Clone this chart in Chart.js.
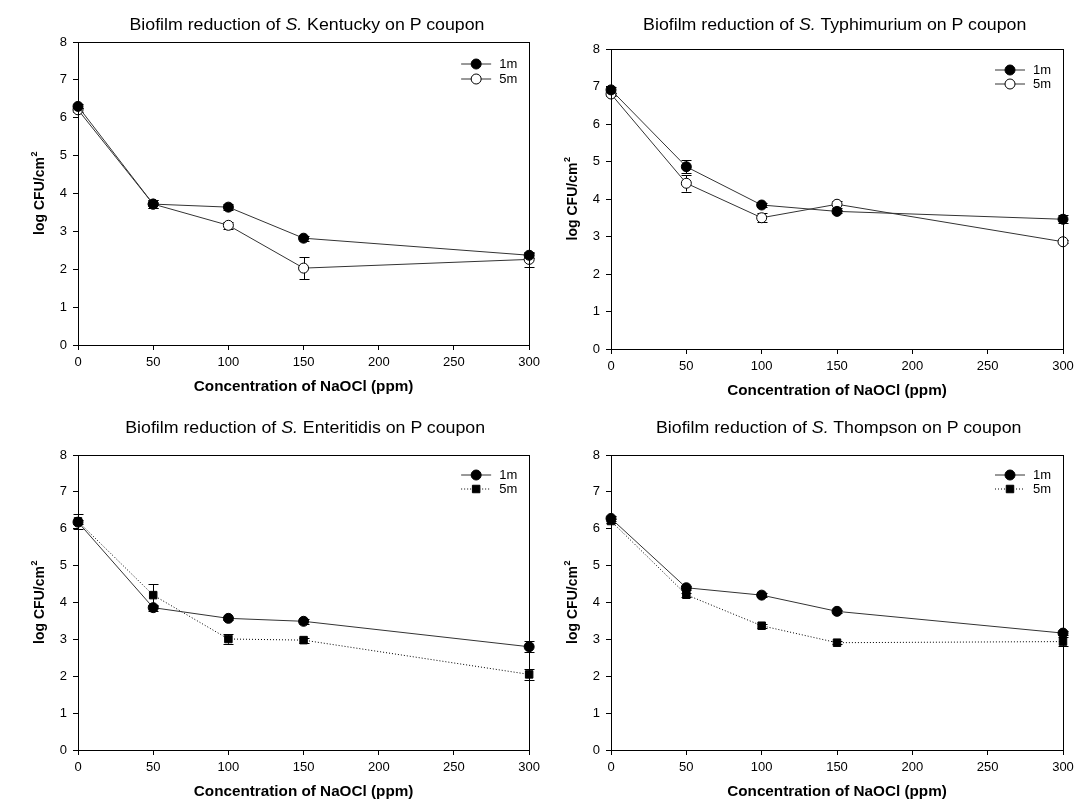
<!DOCTYPE html>
<html><head><meta charset="utf-8">
<script src="https://cdn.jsdelivr.net/npm/chart.js@4"></script>
<style>
body{margin:0;background:#fff;width:1090px;height:808px;overflow:hidden;position:relative;font-family:"Liberation Sans",Arial,sans-serif;}
.panel{position:absolute;width:545px;height:404px;}
.panel canvas{position:absolute;left:0;top:0;}
.title{position:absolute;white-space:nowrap;font-size:16px;color:#000;line-height:20px;transform-origin:center center;}
</style></head><body>
<div class="panel" style="left:0;top:0"><canvas id="c1" width="545" height="404"></canvas></div>
<div class="panel" style="left:545px;top:0"><canvas id="c2" width="545" height="404"></canvas></div>
<div class="panel" style="left:0;top:404px"><canvas id="c3" width="545" height="404"></canvas></div>
<div class="panel" style="left:545px;top:404px"><canvas id="c4" width="545" height="404"></canvas></div>
<div class="title" id="t1">Biofilm reduction of <i>S.</i> Kentucky on P coupon</div>
<div class="title" id="t2">Biofilm reduction of <i>S.</i> Typhimurium on P coupon</div>
<div class="title" id="t3">Biofilm reduction of <i>S.</i> Enteritidis on P coupon</div>
<div class="title" id="t4">Biofilm reduction of <i>S.</i> Thompson on P coupon</div>
<script>
// ---- data ----
const concentration = [0, 50, 100, 150, 300];
const xTickValues = [0, 50, 100, 150, 200, 250, 300];
const yTickValues = [0, 1, 2, 3, 4, 5, 6, 7, 8];
const seriesLabels = ['1m', '5m'];
const xAxisTitle = 'Concentration of NaOCl (ppm)';
const yAxisTitle = 'log CFU/cm';
const yAxisSup = '2';

const kentucky1m = [6.30, 3.72, 3.64, 2.82, 2.37];
const kentucky1mErr = [0.05, 0.10, 0.07, 0.07, 0.07];
const kentucky5m = [6.21, 3.72, 3.16, 2.03, 2.26];
const kentucky5mErr = [0.05, 0.10, 0.10, 0.29, 0.19];

const typhimurium1m = [6.91, 4.86, 3.84, 3.67, 3.46];
const typhimurium1mErr = [0.07, 0.18, 0.06, 0.05, 0.10];
const typhimurium5m = [6.80, 4.42, 3.50, 3.86, 2.86];
const typhimurium5mErr = [0.04, 0.22, 0.12, 0.09, 0.04];

const enteritidis1m = [6.18, 3.86, 3.57, 3.49, 2.80];
const enteritidis1mErr = [0.05, 0.08, 0.04, 0.06, 0.15];
const enteritidis5m = [6.20, 4.20, 3.01, 2.98, 2.05];
const enteritidis5mErr = [0.21, 0.29, 0.13, 0.07, 0.15];

const thompson1m = [6.28, 4.40, 4.20, 3.76, 3.17];
const thompson1mErr = [0.06, 0.05, 0.05, 0.05, 0.06];
const thompson5m = [6.21, 4.21, 3.37, 2.91, 2.94];
const thompson5mErr = [0.05, 0.05, 0.05, 0.04, 0.12];

// ---- layout ----
const FONT = '"Liberation Sans", Arial, sans-serif';
const panels = [
  {canvas:'c1', title:'t1', tx:307, ty:25, area:{L:78, R:531, T:42, B:345}, leg:[22,37],
   s1:kentucky1m, e1:kentucky1mErr, s2:kentucky5m, e2:kentucky5mErr, style2:'open'},
  {canvas:'c2', title:'t2', tx:834, ty:25, area:{L:66, R:518, T:49, B:349}, leg:[21,35],
   s1:typhimurium1m, e1:typhimurium1mErr, s2:typhimurium5m, e2:typhimurium5mErr, style2:'open'},
  {canvas:'c3', title:'t3', tx:305, ty:428, area:{L:78, R:531, T:51, B:346}, leg:[20,34],
   s1:enteritidis1m, e1:enteritidis1mErr, s2:enteritidis5m, e2:enteritidis5mErr, style2:'square'},
  {canvas:'c4', title:'t4', tx:838, ty:428, area:{L:66, R:518, T:51, B:346}, leg:[20,34],
   s1:thompson1m, e1:thompson1mErr, s2:thompson5m, e2:thompson5mErr, style2:'square'}
];
const YW = 40, XH = 30;

const errorBars = {
  id:'errorBars',
  beforeDatasetsDraw(chart){
    const ctx = chart.ctx, xs = chart.scales.x, ys = chart.scales.y;
    ctx.save();
    ctx.strokeStyle = '#000'; ctx.lineWidth = 1;
    chart.data.datasets.forEach(ds => {
      ds.data.forEach((p, i) => {
        const e = ds.errors[i];
        const x = Math.round(xs.getPixelForValue(p.x)) + 0.5;
        const y1 = ys.getPixelForValue(p.y + e), y2 = ys.getPixelForValue(p.y - e);
        ctx.beginPath();
        ctx.moveTo(x, y1); ctx.lineTo(x, y2);
        ctx.moveTo(x - 5, Math.round(y1) + 0.5); ctx.lineTo(x + 5, Math.round(y1) + 0.5);
        ctx.moveTo(x - 5, Math.round(y2) + 0.5); ctx.lineTo(x + 5, Math.round(y2) + 0.5);
        ctx.stroke();
      });
    });
    ctx.restore();
  }
};

const decorations = {
  id:'decorations',
  afterDraw(chart, args, opts){
    const ctx = chart.ctx, a = chart.chartArea;
    ctx.save();
    // frame
    ctx.strokeStyle = '#000'; ctx.lineWidth = 1;
    ctx.strokeRect(Math.round(a.left) + 0.5, Math.round(a.top) + 0.5, Math.round(a.right - a.left), Math.round(a.bottom - a.top));
    // legend
    const lineR = a.right - 38, lineL = lineR - 30;
    chart.data.datasets.forEach((ds, i) => {
      const y = a.top + opts.leg[i];
      ctx.save();
      ctx.strokeStyle = ds.borderColor; ctx.lineWidth = 1;
      ctx.setLineDash(ds.borderDash || []);
      ctx.beginPath(); ctx.moveTo(lineL, y); ctx.lineTo(lineR, y); ctx.stroke();
      ctx.setLineDash([]);
      ctx.fillStyle = ds.pointBackgroundColor; ctx.strokeStyle = ds.pointBorderColor; ctx.lineWidth = 1;
      Chart.helpers.drawPoint(ctx, {pointStyle: ds.pointStyle, radius: ds.pointRadius, rotation: 0, borderWidth: 1}, (lineL + lineR) / 2, y);
      ctx.restore();
      ctx.fillStyle = '#000';
      ctx.font = '13px ' + FONT;
      ctx.textBaseline = 'middle'; ctx.textAlign = 'left';
      ctx.fillText(ds.label, a.right - 30, y);
    });
    // x title
    ctx.fillStyle = '#000';
    ctx.font = 'bold 14px ' + FONT;
    ctx.textBaseline = 'middle'; ctx.textAlign = 'center';
    ctx.save();
    ctx.translate((a.left + a.right) / 2, a.bottom + 42.5);
    ctx.scale(1.09, 1);
    ctx.fillText(xAxisTitle, 0, 0);
    ctx.restore();
    // y title
    ctx.save();
    ctx.translate(a.left - 37.5, (a.top + a.bottom) / 2);
    ctx.rotate(-Math.PI / 2);
    ctx.font = 'bold 14px ' + FONT;
    const w1 = ctx.measureText(yAxisTitle).width;
    ctx.font = 'bold 9px ' + FONT;
    const w2 = ctx.measureText(yAxisSup).width;
    const x0 = -(w1 + w2) / 2;
    ctx.textAlign = 'left';
    ctx.font = 'bold 14px ' + FONT;
    ctx.fillText(yAxisTitle, x0, 0);
    ctx.font = 'bold 9px ' + FONT;
    ctx.fillText(yAxisSup, x0 + w1 + 0.5, -6);
    ctx.restore();
    ctx.restore();
  }
};

function dataset(label, vals, errs, kind){
  const base = {
    label, errors: errs,
    data: concentration.map((x, i) => ({x, y: vals[i]})),
    borderColor: '#333', borderWidth: 1, tension: 0, clip: false,
    pointBorderColor: '#000', pointBorderWidth: 1, pointRadius: 5, pointStyle: 'circle',
    pointBackgroundColor: '#000'
  };
  if (kind === 'open') { base.pointBackgroundColor = '#fff'; }
  if (kind === 'square') { base.pointStyle = 'rect'; base.pointRadius = 5.3; base.borderDash = [1, 2]; base.borderColor = '#000'; }
  return base;
}

const tickFont = {size: 13, family: FONT};
panels.forEach(p => {
  const a = p.area;
  new Chart(document.getElementById(p.canvas), {
    type: 'line',
    data: {datasets: [dataset(seriesLabels[0], p.s1, p.e1, 'filled'), dataset(seriesLabels[1], p.s2, p.e2, p.style2)]},
    options: {
      responsive: false, animation: false, devicePixelRatio: 1,
      layout: {padding: {left: a.L - YW, right: 545 - a.R, top: a.T, bottom: 404 - a.B - XH}},
      plugins: {legend: {display: false}, tooltip: {enabled: false}, decorations: {leg: p.leg}},
      scales: {
        x: {type: 'linear', min: 0, max: 300,
          afterBuildTicks: s => { s.ticks = xTickValues.map(v => ({value: v})); },
          afterFit: s => { s.height = XH; },
          grid: {drawOnChartArea: false, drawTicks: true, tickLength: 5, tickColor: '#000', color: '#000'},
          border: {display: true, color: '#000', width: 1},
          ticks: {font: tickFont, color: '#000', padding: 5, maxRotation: 0, autoSkip: false}},
        y: {type: 'linear', min: 0, max: 8,
          afterBuildTicks: s => { s.ticks = yTickValues.map(v => ({value: v})); },
          afterFit: s => { s.width = YW; },
          grid: {drawOnChartArea: false, drawTicks: true, tickLength: 5, tickColor: '#000', color: '#000'},
          border: {display: true, color: '#000', width: 1},
          ticks: {font: tickFont, color: '#000', padding: 6, autoSkip: false}}
      }
    },
    plugins: [errorBars, decorations]
  });
  const t = document.getElementById(p.title);
  const natural = t.offsetWidth;
  t.style.left = (p.tx - natural / 2) + 'px';
  t.style.top = (p.ty - 10) + 'px';
  t.dataset.nat = natural;
});
// horizontal stretch of titles to match the reference's wide lettering
const k = 355 / Number(document.getElementById('t1').dataset.nat);
['t1','t2','t3','t4'].forEach(id => { document.getElementById(id).style.transform = 'scaleX(' + k + ')'; });
</script>
</body></html>
